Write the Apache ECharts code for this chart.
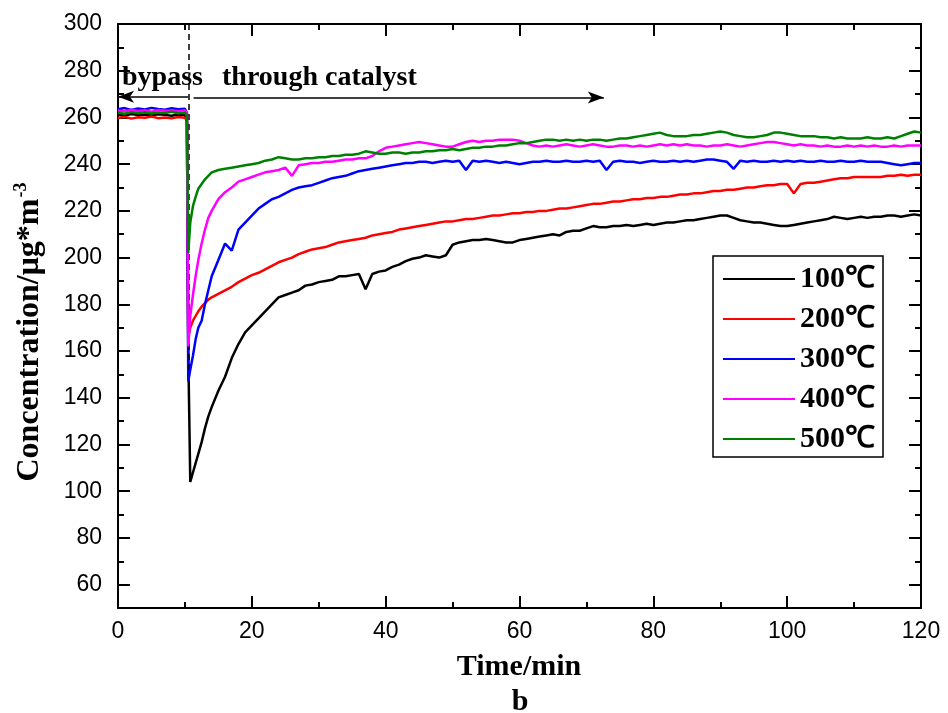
<!DOCTYPE html>
<html>
<head>
<meta charset="utf-8">
<script src="https://cdn.jsdelivr.net/npm/echarts@6/dist/echarts.min.js"></script>
<style>html,body{margin:0;padding:0;background:#fff}#c{width:948px;height:713px}</style>
</head>
<body>
<div id="c"></div>
<script>
const time = [0,1,2,3,4,5,6,7,8,9,10,10.3,10.5,10.8,11.2,11.6,12,12.5,13,13.5,
14,15,16,17,18,19,20,21,22,23,
24,25,26,27,28,29,30,31,32,33,
34,35,36,37,38,39,40,41,42,43,
44,45,46,47,48,49,50,51,52,53,
54,55,56,57,58,59,60,61,62,63,
64,65,66,67,68,69,70,71,72,73,
74,75,76,77,78,79,80,81,82,83,
84,85,86,87,88,89,90,91,92,93,
94,95,96,97,98,99,100,101,102,103,
104,105,106,107,108,109,110,111,112,113,
114,115,116,117,118,119,120];

const c100 = [261.2,260.8,261.5,261.0,261.3,260.9,261.4,261.1,260.7,261.3,261.0,
258,160,104,108,112,116,121,127,132,
136,143,149,157,163,168,171,174,177,180,
183,184,185,186,188,188.5,189.5,190,190.5,192,
192,192.5,193,186.5,193,194,194.5,196,197,198.5,
199.5,200,201,200.5,200,201,205.5,206.5,207,207.5,
207.5,208,207.5,207,206.5,206.5,207.5,208,208.5,209,
209.5,210,209.5,211,211.5,211.5,212.5,213.5,213,213,
213.5,213.5,214,213.5,214,214.5,214,214.5,215,215,
215.5,216,216,216.5,217,217.5,218,218,217,216,
215.5,215,215,214.5,214,213.5,213.5,214,214.5,215,
215.5,216,216.5,217.5,217,216.5,217,217.5,217,217.5,
217.5,218,218,217.5,218,218.5,218];

const c200 = [259.8,260.3,259.5,260.1,259.9,260.4,259.7,260.0,259.6,260.2,259.9,
259,166,170,173,175,177,179,180.5,182,
183,184.5,186,187.5,189.5,191,192.5,193.5,195,196.5,
198,199,200,201.5,202.5,203.5,204,204.5,205.5,206.5,
207,207.5,208,208.5,209.5,210,210.5,211,212,212.5,
213,213.5,214,214.5,215,215.5,215.5,216,216.5,216.5,
217,217.5,218,218,218.5,219,219,219.5,219.5,220,
220,220.5,221,221,221.5,222,222.5,223,223,223.5,
224,224,224.5,225,225,225.5,225.5,226,226,226.5,
227,227,227.5,227.5,228,228.5,228.5,229,229,229.5,
230,230,230.5,231,231,231.5,231.5,227.5,231.5,232,
232,232.5,233,233.5,234,234,234.5,234.5,234.5,234.5,
234.5,235,235,235.5,235,235.5,235.5];

const c300 = [263.5,264.0,263.2,263.8,263.4,264.1,263.6,263.3,263.9,263.5,263.7,
262,147,152,158,165,170,173,180,186,
192,199,206,203,212,215,218,221,223,225,
226,227.5,229,230,230.5,231,232,233,234,234.5,
235,236,237,237.5,238,238.5,239,239.5,240,240.5,
240.5,241,241,240.5,241,241.5,241,241.5,237.5,241.5,
241,241.5,241,240.5,241,240.5,240,240.5,241,241,
241.5,241,241,241.5,241,241,241.5,241,241.5,237.5,
241,241.5,241,241,240.5,241,241.5,241,241,241.5,
241,241.5,241,241.5,242,242,241.5,241,238,241.5,
241,241.5,241,241,241.5,241,241.5,241,241.5,241,
241,241.5,241,241,241.5,241,241,241.5,241,241,
241,240.5,240,239.5,240,240.5,240.5];

const c400 = [263.0,262.6,263.3,262.8,263.1,262.5,263.2,262.9,263.0,262.7,263.1,
262,162,175,184,192,199,206,212,217,
220,225,228,230,232.5,233.5,234.5,235.5,236.5,237,
237.5,238.5,235,239.5,240,240.5,240.5,241,241,241.5,
242,242,242.5,242.5,243.5,245.5,247,247.5,248,248.5,
249,249.5,249,248.5,248,247.5,247.5,248.5,249.5,250,
249.5,250,250,250.5,250.5,250.5,250,249,248,247.5,
248,247.5,248,248.5,248,247.5,248,248.5,248,247.5,
247.5,248,248,247.5,248,247.5,248,248.5,248,248.5,
248,248.5,248,248,247.5,248,248,248.5,248,247.5,
248,248.5,249,249.5,249.5,249,248.5,248,248.5,248,
248,247.5,248,247.5,247.5,248,247.5,248,247.5,248,
247.5,247.5,248,247.5,248,248,248];

const c500 = [262.0,261.6,262.3,261.8,262.2,261.7,262.1,261.9,262.4,261.8,262.0,
261,202,215,222,226,229.5,231.5,233.5,235,
236.5,237.5,238,238.5,239,239.5,240,240.5,241.5,242,
243,242.5,242,242,242.5,242.5,243,243,243.5,243.5,
244,244,244.5,245.5,245,244.5,244.5,245,245,244.5,
245,245,245.5,245.5,246,246,246.5,246,246.5,247,
247,247.5,247.5,248,248,248.5,249,249,249.5,250,
250.5,250.5,250,250.5,250,250.5,250,250.5,250.5,250,
250.5,251,251,251.5,252,252.5,253,253.5,252.5,252,
252,252,252.5,252.5,253,253.5,254,253.5,252.5,252,
251.5,251.5,252,252.5,253.5,253.5,253,252.5,252,252,
252,251.5,251.5,251,251.5,251,251,251,251.5,251,
251,251.5,251,252,253,254,253.5];

const seriesNames = ['100℃','200℃','300℃','400℃','500℃'];
const seriesColors = ['#000000','#ff0000','#0000ff','#ff00ff','#008000'];
const seriesValues = [c100,c200,c300,c400,c500];

const yLabelValues = [60,80,100,120,140,160,180,200,220,240,260,280,300];
const yMinorValues = [70,90,110,130,150,170,190,210,230,250,270,290];

const serif = '"Liberation Serif","Times New Roman",serif';
const sans = '"Liberation Sans",Arial,sans-serif';

const chart = echarts.init(document.getElementById('c'), null, {renderer:'canvas'});

function xAx(pos, showLabel){
  return {
    type:'value', position:pos, min:0, max:120, interval:20,
    axisLine:{show:true, onZero:false, lineStyle:{color:'#000', width:2}},
    axisTick:{show:true, inside:true, length:12, lineStyle:{color:'#000', width:2}},
    minorTick:{show:true, splitNumber:2, length:6, lineStyle:{color:'#000', width:2}},
    splitLine:{show:false},
    axisLabel:{show:showLabel, color:'#000', fontSize:23, fontFamily:sans, margin:12}
  };
}
function yAx(pos, vals, len, showLine, showLabel){
  return {
    type:'value', position:pos, min:50, max:300,
    axisLine:{show:showLine, onZero:false, lineStyle:{color:'#000', width:2}},
    axisTick:{show:true, inside:true, length:len, customValues:vals, lineStyle:{color:'#000', width:2}},
    splitLine:{show:false},
    axisLabel:{show:showLabel, customValues:vals, color:'#000', fontSize:23, fontFamily:sans, margin:16}
  };
}

const series = seriesNames.map((n,i)=>({
  name:n, type:'line', xAxisIndex:0, yAxisIndex:0,
  data: time.map((t,k)=>[t, seriesValues[i][k]]),
  symbol:'none', showSymbol:false,
  lineStyle:{color:seriesColors[i], width:2.5},
  itemStyle:{color:seriesColors[i]},
  z: 2+i
}));

series.push({
  name:'annot', type:'line', data:[], xAxisIndex:0, yAxisIndex:0,
  markLine:{
    silent:true, animation:false,
    label:{show:false},
    symbol:['none','arrow'], symbolSize:[9,16],
    lineStyle:{color:'#000', width:1.5, type:'solid'},
    data:[
      [{coord:[10.5,268.9]},{coord:[0,268.9]}],
      [{coord:[11.3,268.5]},{coord:[72.6,268.5]}],
      [{coord:[10.6,300], symbol:'none', lineStyle:{type:[6,4], width:1.5, color:'#000'}},{coord:[10.6,150], symbol:'none'}]
    ]
  },
  z: 10
});

chart.setOption({
  animation:false,
  backgroundColor:'#fff',
  grid:{left:118, right:27, top:24, bottom:105, containLabel:false},
  xAxis:[xAx('bottom', true), xAx('top', false)],
  yAxis:[
    yAx('left', yLabelValues, 12, true, true),
    yAx('left', yMinorValues, 6, false, false),
    yAx('right', yLabelValues, 12, true, false),
    yAx('right', yMinorValues, 6, false, false)
  ],
  legend:{
    data:seriesNames.map(n=>({name:n, icon:'rect'})),
    orient:'vertical', left:713, top:256,
    padding:[8,8,3,10],
    itemWidth:72, itemHeight:2, itemGap:10,
    backgroundColor:'#fff',
    borderColor:'#000', borderWidth:1.5,
    textStyle:{color:'#000', fontFamily:serif, fontWeight:'bold', fontSize:30, lineHeight:30}
  },
  series: series,
  graphic:[
    {type:'text', left:122, top:64, z:20, style:{text:'bypass', font:'bold 28px '+serif, fill:'#000'}},
    {type:'text', left:222, top:64, z:20, style:{text:'through catalyst', font:'bold 28px '+serif, fill:'#000'}},
    {type:'text', x:519, y:667, z:20, style:{text:'Time/min', font:'bold 30px '+serif, fill:'#000', align:'center', verticalAlign:'middle'}},
    {type:'text', x:520, y:702, z:20, style:{text:'b', font:'bold 30px '+serif, fill:'#000', align:'center', verticalAlign:'middle'}},
    {type:'text', x:30, y:332, rotation:Math.PI/2, z:20, style:{
      text:'{a|Concentration/μg*m}{s|-3}', align:'center', verticalAlign:'middle', fill:'#000',
      rich:{
        a:{font:'bold 32px '+serif, fill:'#000', lineHeight:36},
        s:{font:'bold 18px '+serif, fill:'#000', verticalAlign:'top', lineHeight:36, padding:[0,0,14,1]}
      }
    }}
  ]
});
</script>
</body>
</html>
